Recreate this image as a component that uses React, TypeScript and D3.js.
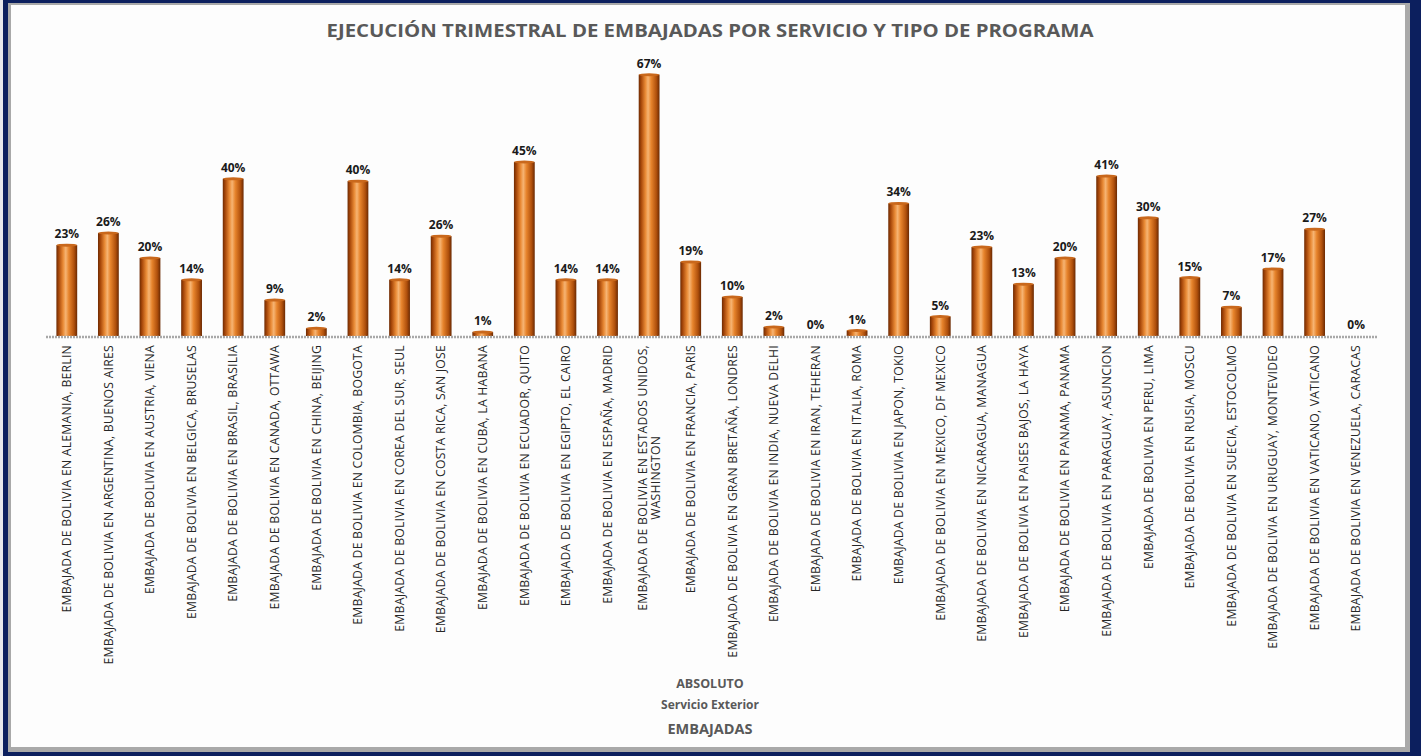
import React, { useEffect, useRef } from "react";
import * as d3 from "d3";

const categories: string[] = [
  "EMBAJADA DE BOLIVIA EN ALEMANIA, BERLIN",
  "EMBAJADA DE BOLIVIA EN ARGENTINA, BUENOS AIRES",
  "EMBAJADA DE BOLIVIA EN AUSTRIA, VIENA",
  "EMBAJADA DE BOLIVIA EN BELGICA, BRUSELAS",
  "EMBAJADA DE BOLIVIA EN BRASIL, BRASILIA",
  "EMBAJADA DE BOLIVIA EN CANADA, OTTAWA",
  "EMBAJADA DE BOLIVIA EN CHINA, BEIJING",
  "EMBAJADA DE BOLIVIA EN COLOMBIA, BOGOTA",
  "EMBAJADA DE BOLIVIA EN COREA DEL SUR, SEUL",
  "EMBAJADA DE BOLIVIA EN COSTA RICA, SAN JOSE",
  "EMBAJADA DE BOLIVIA EN CUBA, LA HABANA",
  "EMBAJADA DE BOLIVIA EN ECUADOR, QUITO",
  "EMBAJADA DE BOLIVIA EN EGIPTO, EL CAIRO",
  "EMBAJADA DE BOLIVIA EN ESPAÑA, MADRID",
  "EMBAJADA DE BOLIVIA EN ESTADOS UNIDOS,\nWASHINGTON",
  "EMBAJADA DE BOLIVIA EN FRANCIA, PARIS",
  "EMBAJADA DE BOLIVIA EN GRAN BRETAÑA, LONDRES",
  "EMBAJADA DE BOLIVIA EN INDIA, NUEVA DELHI",
  "EMBAJADA DE BOLIVIA EN IRAN, TEHERAN",
  "EMBAJADA DE BOLIVIA EN ITALIA, ROMA",
  "EMBAJADA DE BOLIVIA EN JAPON, TOKIO",
  "EMBAJADA DE BOLIVIA EN MEXICO, DF MEXICO",
  "EMBAJADA DE BOLIVIA EN NICARAGUA, MANAGUA",
  "EMBAJADA DE BOLIVIA EN PAISES BAJOS, LA HAYA",
  "EMBAJADA DE BOLIVIA EN PANAMA, PANAMA",
  "EMBAJADA DE BOLIVIA EN PARAGUAY, ASUNCION",
  "EMBAJADA DE BOLIVIA EN PERU, LIMA",
  "EMBAJADA DE BOLIVIA EN RUSIA, MOSCU",
  "EMBAJADA DE BOLIVIA EN SUECIA, ESTOCOLMO",
  "EMBAJADA DE BOLIVIA EN URUGUAY, MONTEVIDEO",
  "EMBAJADA DE BOLIVIA EN VATICANO, VATICANO",
  "EMBAJADA DE BOLIVIA EN VENEZUELA, CARACAS",
];

const values: number[] = [
  0.233, 0.264, 0.2, 0.144, 0.403, 0.092, 0.02, 0.397, 0.144, 0.256, 0.01,
  0.446, 0.144, 0.144, 0.67, 0.19, 0.1, 0.023, 0.0, 0.014, 0.34, 0.05,
  0.228, 0.133, 0.2, 0.41, 0.303, 0.15, 0.074, 0.172, 0.274, 0.0,
];

const title = "EJECUCIÓN TRIMESTRAL DE EMBAJADAS POR SERVICIO Y TIPO DE PROGRAMA";
const axisTitles: string[] = ["ABSOLUTO", "Servicio Exterior", "EMBAJADAS"];

const W = 1421;
const H = 756;
const FONT = "'Open Sans', 'DejaVu Sans', sans-serif";

export default function App() {
  const ref = useRef<SVGSVGElement | null>(null);

  useEffect(() => {
    const svg = d3.select(ref.current);
    svg.selectAll("*").remove();

    const defs = svg.append("defs");
    const grad = defs
      .append("linearGradient")
      .attr("id", "barGrad")
      .attr("x1", "0%")
      .attr("x2", "100%")
      .attr("y1", "0%")
      .attr("y2", "0%");
    [
      [0, "#6e2a02"],
      [0.12, "#a8480a"],
      [0.32, "#e98a35"],
      [0.45, "#f6b473"],
      [0.6, "#e7842c"],
      [0.85, "#b0500c"],
      [1, "#6a2902"],
    ].forEach(([o, c]) =>
      grad.append("stop").attr("offset", o as number).attr("stop-color", c as string)
    );

    // frame
    svg.append("rect").attr("x", 0).attr("y", 0).attr("width", W).attr("height", H).attr("fill", "#e8e8ec");
    svg.append("rect").attr("x", 3).attr("y", 0).attr("width", W - 3).attr("height", H).attr("fill", "#0c1f5e");
    svg.append("rect").attr("x", 8).attr("y", 3).attr("width", 1402).attr("height", 749).attr("fill", "#a9a9a9");
    svg.append("rect").attr("x", 11).attr("y", 5).attr("width", 1394).attr("height", 742).attr("fill", "#fdfdfd");

    const x = d3
      .scaleBand<number>()
      .domain(d3.range(categories.length))
      .range([46, 1377])
      .paddingInner(0.5)
      .paddingOuter(0.25);
    const y = d3.scaleLinear().domain([0, 0.7]).range([336, 63]);

    // title
    svg
      .append("text")
      .attr("x", 710)
      .attr("y", 37)
      .attr("text-anchor", "middle")
      .attr("font-family", FONT)
      .attr("font-weight", "bold")
      .attr("font-size", 18.5)
      .attr("textLength", 767)
      .attr("lengthAdjust", "spacingAndGlyphs")
      .attr("fill", "#595959")
      .text(title);

    // bars
    const g = svg.append("g");
    categories.forEach((_, i) => {
      const v = values[i];
      const bx = x(i)!;
      const bw = x.bandwidth();
      const top = y(v);
      const h = y(0) - top;
      if (h > 0.3) {
        g.append("rect")
          .attr("x", bx)
          .attr("y", top)
          .attr("width", bw)
          .attr("height", h)
          .attr("fill", "url(#barGrad)");
        g.append("ellipse")
          .attr("cx", bx + bw / 2)
          .attr("cy", top)
          .attr("rx", bw / 2)
          .attr("ry", 1.5)
          .attr("fill", "#c9681c");
      }
    });

    // axis line
    svg
      .append("line")
      .attr("x1", 46)
      .attr("x2", 1377)
      .attr("y1", y(0) + 1)
      .attr("y2", y(0) + 1)
      .attr("stroke", "#a8a8a8")
      .attr("stroke-width", 2.5)
      .attr("stroke-dasharray", "2,1");

    // data labels
    categories.forEach((_, i) => {
      svg
        .append("text")
        .attr("x", x(i)! + x.bandwidth() / 2)
        .attr("y", y(values[i]) - 7)
        .attr("text-anchor", "middle")
        .attr("font-family", FONT)
        .attr("font-weight", "bold")
        .attr("font-size", 12)
        .attr("fill", "#1a1a1a")
        .text(d3.format(".0%")(values[i]));
    });

    // category labels
    const LFS = 12.2;
    categories.forEach((c, i) => {
      const cx = x(i)! + x.bandwidth() / 2;
      const lines = c.split("\n");
      const lg = svg.append("g").attr("transform", `translate(${cx},345) rotate(-90)`);
      const lh = 13;
      const offsets = lines.map((_, k) => (k - (lines.length - 1) / 2) * lh);
      const first = lg
        .append("text")
        .attr("x", 0)
        .attr("y", offsets[0])
        .attr("dy", "0.35em")
        .attr("text-anchor", "end")
        .attr("font-family", FONT)
        .attr("font-size", LFS)
        .attr("letter-spacing", 0.25)
        .attr("fill", "#262626")
        .text(lines[0]);
      if (lines.length > 1) {
        const L = (first.node() as SVGTextElement).getComputedTextLength();
        for (let k = 1; k < lines.length; k++) {
          lg.append("text")
            .attr("x", -L / 2)
            .attr("y", offsets[k])
            .attr("dy", "0.35em")
            .attr("text-anchor", "middle")
            .attr("font-family", FONT)
            .attr("font-size", LFS)
            .attr("letter-spacing", 0.25)
            .attr("fill", "#262626")
            .text(lines[k]);
        }
      }
    });

    // axis titles
    const tys = [688, 709, 734];
    const tsz = [12.5, 12, 14.5];
    axisTitles.forEach((t, k) => {
      svg
        .append("text")
        .attr("x", 710)
        .attr("y", tys[k])
        .attr("text-anchor", "middle")
        .attr("font-family", FONT)
        .attr("font-weight", "bold")
        .attr("font-size", tsz[k])
        .attr("fill", "#595959")
        .text(t);
    });
  }, []);

  return (
    <svg
      ref={ref}
      width={W}
      height={H}
      style={{ position: "absolute", left: 0, top: 0, display: "block" }}
    />
  );
}
